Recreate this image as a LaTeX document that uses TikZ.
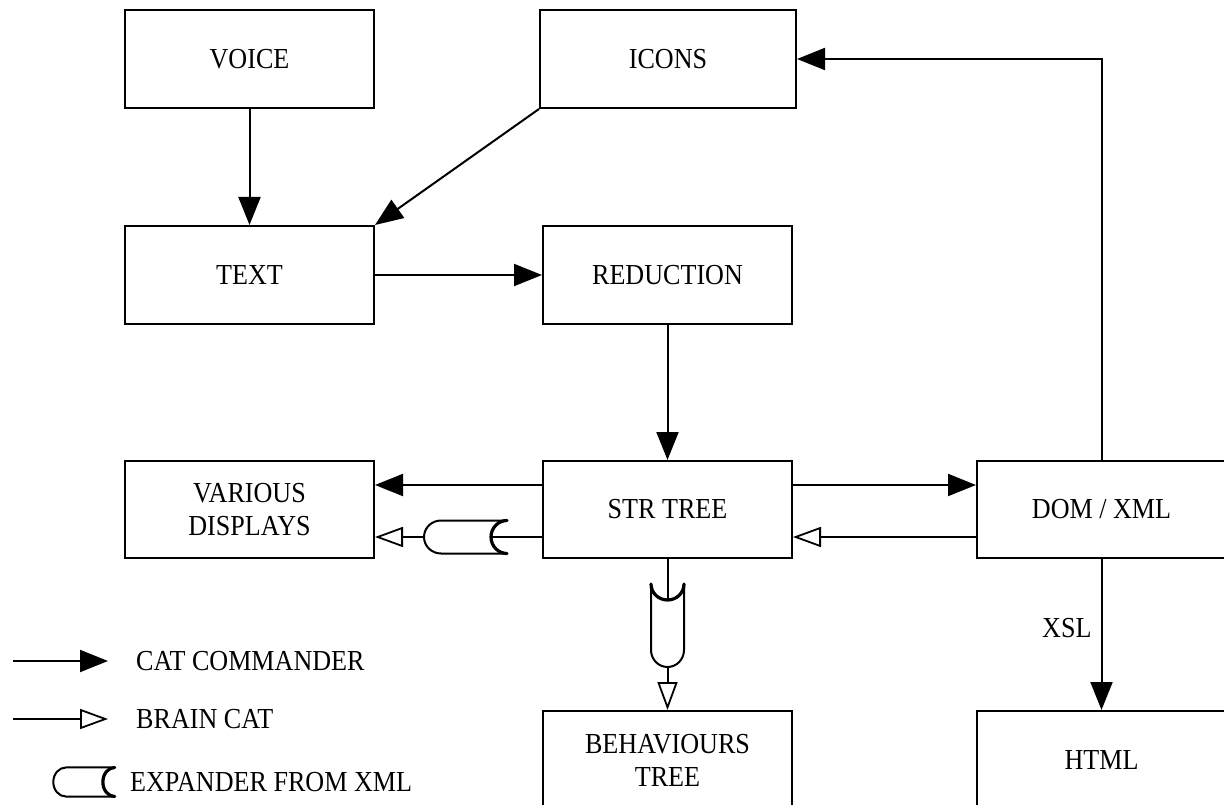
\documentclass[tikz,border=0pt]{standalone}
\usepackage{fontspec}
\setmainfont{Liberation Serif}[FakeStretch=0.9]
\usetikzlibrary{arrows.meta}

\tikzset{
  box/.style={draw, line width=2pt, minimum width=249pt, minimum height=98pt,
              inner sep=0pt, align=center, font=\fontsize{29}{33}\selectfont},
  lbl/.style={inner sep=0pt, font=\fontsize{29}{33}\selectfont},
  link/.style={line width=2pt},
  cmd/.style={link, -{Triangle[length=28pt, width=22pt]}},
  brain/.style={link, -{Triangle[open, length=28pt, width=20pt, line width=1.8pt]}},
  expander/.pic={
    \draw[line width=2pt, line join=round]
      (41.5,-16.5) -- (-24.5,-16.5)
      arc[start angle=270, end angle=90, x radius=17, y radius=16.5]
      -- (41.5,16.5)
      arc[start angle=90, end angle=270, x radius=16, y radius=16.5] -- cycle;
    % heavier concave end
    \draw[line width=3.2pt, line cap=round]
      (41.5,16.5) arc[start angle=90, end angle=270, x radius=16, y radius=16.5];
    \coordinate (-in) at (25.5,0);
    \coordinate (-out) at (-41.5,0);
  }
}

\begin{document}
\begin{tikzpicture}[x=1pt, y=-1pt]
\useasboundingbox (0,0) rectangle (1224,805);
\clip (0,0) rectangle (1224,805);

% blocks
\node[box] (voice) at (249.5,59) {VOICE};
\node[box, minimum width=256pt] (icons) at (668,59) {ICONS};
\node[box] (text) at (249.5,275) {TEXT};
\node[box] (reduction) at (667.5,275) {REDUCTION};
\node[box, minimum height=97pt] (various) at (249.5,509.5) {VARIOUS\\DISPLAYS};
\node[box, minimum height=97pt] (strtree) at (667.5,509.5) {STR TREE};
\node[box, minimum height=97pt] (dom) at (1101.5,509.5) {DOM / XML};
\node[box] (behav) at (667.5,760) {BEHAVIOURS\\TREE};
\node[box] (html) at (1101.5,760) {HTML};

% horizontal rows of the links around STR TREE
\coordinate (rowA) at (0,485);
\coordinate (rowB) at (0,537);

% expanders
\pic (ex1) at (465.5,537) {expander};
\pic[rotate=90] (ex2) at (667.5,625.5) {expander};

% links
\draw[cmd] (voice.south) -- (text.north);
\draw[cmd] (icons.south west) -- (text.north east);
\draw[cmd] (text.east) -- (reduction.west);
\draw[cmd] (reduction.south) -- (strtree.north);
\draw[cmd] (strtree.west |- rowA) -- (various.east |- rowA);
\draw[cmd] (strtree.east |- rowA) -- (dom.west |- rowA);
\draw[brain] (dom.west |- rowB) -- (strtree.east |- rowB);
\draw[link] (strtree.west |- rowB) -- (ex1-in);
\draw[brain] (ex1-out) -- (various.east |- rowB);
\draw[link] (strtree.south) -- (ex2-in);
\draw[brain] (ex2-out) -- (behav.north);
\draw[cmd] (dom.north) |- (icons.east);
\draw[cmd] (dom.south) -- (html.north)
  node[lbl, pos=0.46, left=9pt] {XSL};

% legend
\coordinate (k1a) at (13,661);
\coordinate (k1b) at (108,661);
\coordinate (k2a) at (13,719);
\coordinate (k2b) at (108,719);
\draw[cmd] (k1a) -- (k1b);
\node[lbl, anchor=west] (k1t) at (136,661) {CAT COMMANDER};
\draw[brain] (k2a) -- (k2b);
\node[lbl, anchor=west] (k2t) at (136,719) {BRAIN CAT};
\pic[xscale=0.74, yscale=0.88] (kex) at (84,782) {expander};
\node[lbl, anchor=west] (k3t) at (130,782) {EXPANDER FROM XML};
\end{tikzpicture}
\end{document}
